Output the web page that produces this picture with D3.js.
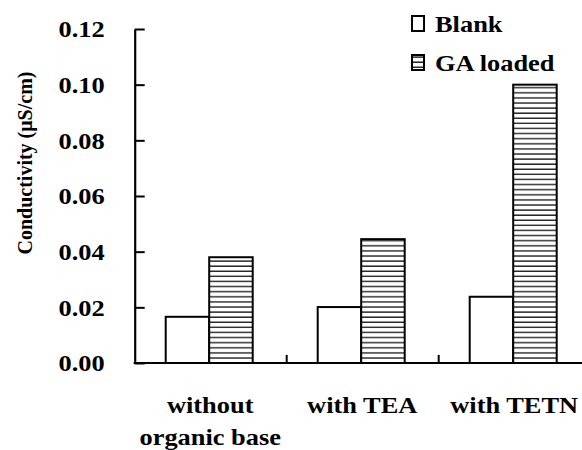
<!DOCTYPE html>
<html><head><meta charset="utf-8">
<script src="https://cdn.jsdelivr.net/npm/d3@7"></script>
<style>body{margin:0;background:#fff} svg text{font-family:"Liberation Serif","Times New Roman",Times,"DejaVu Serif",serif !important;font-weight:bold;}</style>
</head><body>
<svg id="c" width="582" height="450"></svg>
<script>
const categories = ["without organic base", "with TEA", "with TETN"];
const categoryLines = [["without", "organic base"], ["with TEA"], ["with TETN"]];
const series = ["Blank", "GA loaded"];
const blankValues = [0.0166, 0.0201, 0.0238];
const gaValues = [0.038, 0.0445, 0.100];
const yTicks = [0.00, 0.02, 0.04, 0.06, 0.08, 0.10, 0.12];

const svg = d3.select("#c");
const SX = 1.1;

const defs = svg.append("defs");
const pat = defs.append("pattern").attr("id", "hatch")
  .attr("patternUnits", "userSpaceOnUse").attr("width", 10).attr("height", 5.1);
pat.append("rect").attr("width", 10).attr("height", 5.1).attr("fill", "#fff");
pat.append("line").attr("x1", 0).attr("x2", 10).attr("y1", 1).attr("y2", 1)
  .attr("stroke", "#222").attr("stroke-width", 1.4);

const y = d3.scaleLinear().domain([0, 0.12]).range([363, 29]);
const x = d3.scaleBand().domain(categories).range([134.7, 590.7]).padding(0);
const xs = d3.scaleBand().domain(series).range([31, 118]).padding(0);

const data = categories.map((c, i) => ({c, vals: [blankValues[i], gaValues[i]]}));

const g = svg.append("g");
data.forEach(d => {
  d.vals.forEach((v, j) => {
    g.append("rect")
      .attr("x", x(d.c) + xs(series[j]))
      .attr("y", y(v))
      .attr("width", xs.bandwidth())
      .attr("height", y(0) - y(v))
      .attr("fill", j === 0 ? "#fff" : "url(#hatch)")
      .attr("stroke", "#000").attr("stroke-width", 2);
  });
});

const yAxis = d3.axisLeft(y).tickValues(yTicks).tickFormat(d3.format(".2f"))
  .tickSizeInner(-10).tickSizeOuter(0).tickPadding(30);
const ya = svg.append("g").attr("transform", "translate(134.7,0)").call(yAxis);
ya.select(".domain").attr("stroke-width", 2.2);
ya.selectAll(".tick line").attr("stroke-width", 2);
ya.selectAll(".tick text").attr("font-size", 24).attr("fill", "#000")
  .attr("x", -30 / SX).attr("transform", `scale(${SX},1)`);

svg.append("line").attr("x1", 133.6).attr("x2", 590.7).attr("y1", y(0)).attr("y2", y(0))
  .attr("stroke", "#000").attr("stroke-width", 2.2);
svg.selectAll(".xtick").data(categories.slice(1)).enter().append("line")
  .attr("x1", d => x(d)).attr("x2", d => x(d))
  .attr("y1", y(0)).attr("y2", y(0) - 8)
  .attr("stroke", "#000").attr("stroke-width", 2);

const lab = svg.selectAll(".xl").data(categories).enter().append("text")
  .attr("transform", d => `translate(${x(d) + x.bandwidth() / 2 - 0.5},413) scale(${SX},1)`)
  .attr("text-anchor", "middle")
  .attr("font-size", 24);
lab.each(function(d, i) {
  categoryLines[i].forEach((t, k) => {
    d3.select(this).append("tspan").attr("x", 0)
      .attr("dy", k === 0 ? 0 : 32).text(t);
  });
});

svg.append("text")
  .attr("transform", "translate(32,163) rotate(-90)")
  .attr("text-anchor", "middle")
  .attr("font-size", 20)
  .text("Conductivity (\u03bcS/cm)");

const leg = svg.append("g");
series.forEach((s, i) => {
  const cy = 24 + i * 39;
  leg.append("rect").attr("x", 412).attr("y", cy - 8).attr("width", 12).attr("height", 15)
    .attr("fill", i === 0 ? "#fff" : "url(#hatch)")
    .attr("stroke", "#000").attr("stroke-width", 2);
  leg.append("text").attr("transform", `translate(435,${cy + 8}) scale(${SX},1)`)
    .attr("font-size", 24)
    .text(s);
});
</script>
</body></html>
